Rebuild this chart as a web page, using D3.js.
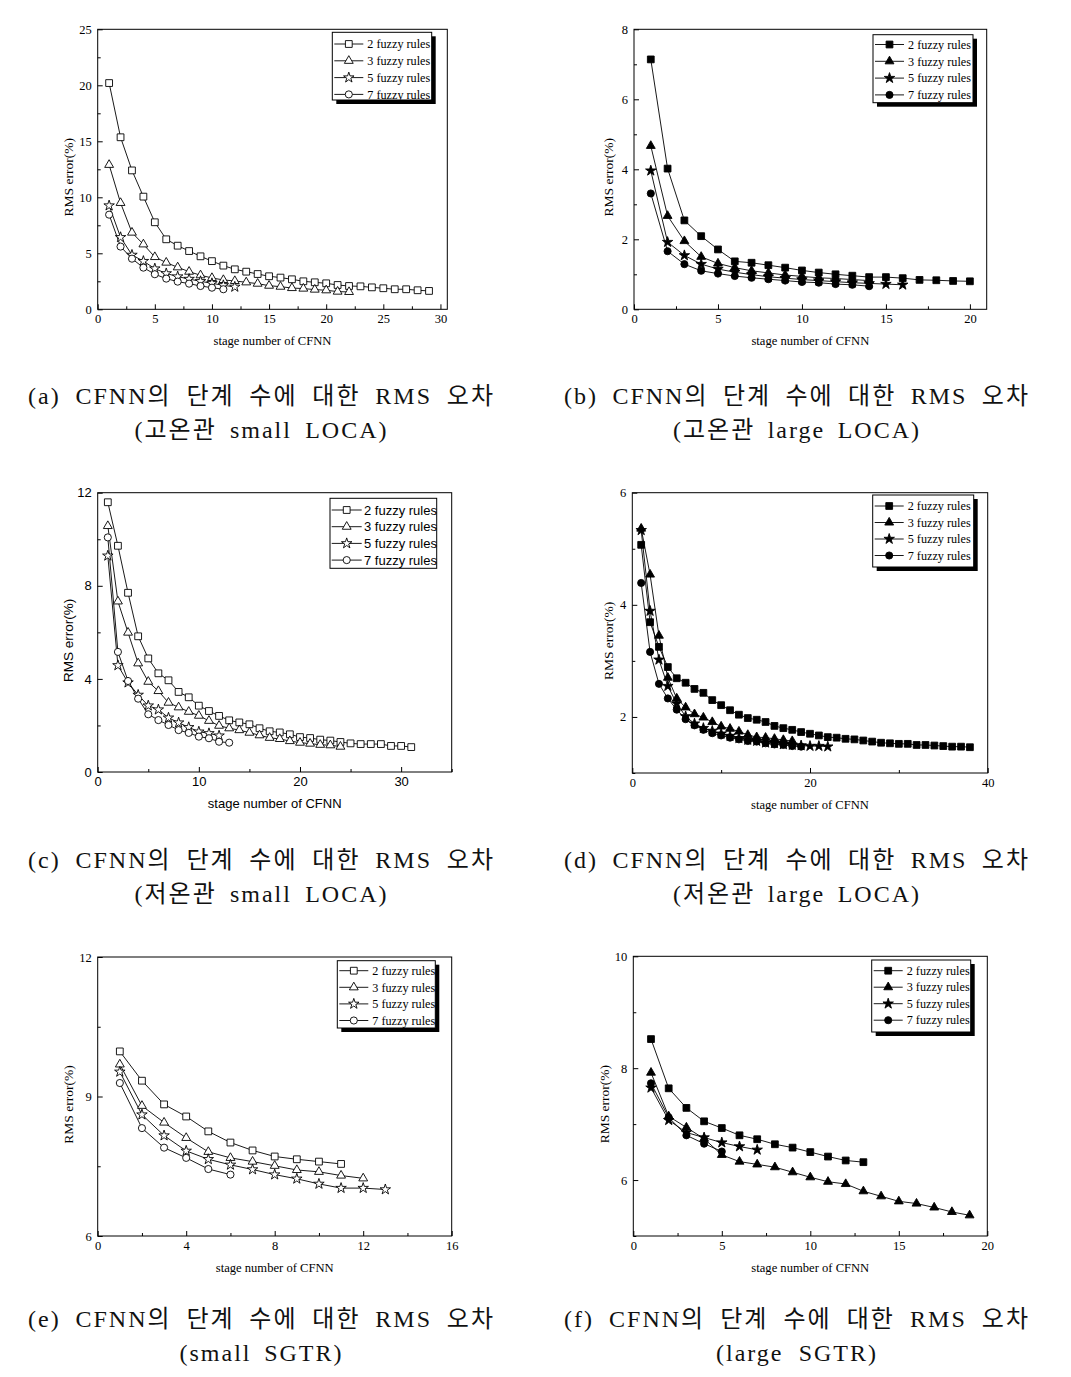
<!DOCTYPE html>
<html><head><meta charset="utf-8">
<script src="https://cdn.jsdelivr.net/npm/d3@7"></script>
<style>body{margin:0;background:#fff}</style>
</head><body>
<svg id="chart" width="1071" height="1377" xmlns="http://www.w3.org/2000/svg"></svg>
<script>
// ---------------- DATA ----------------
const seriesLabels = ["2 fuzzy rules", "3 fuzzy rules", "5 fuzzy rules", "7 fuzzy rules"];
const xAxisTitle = "stage number of CFNN";
const yAxisTitle = "RMS error(%)";

// (a) hot-leg small LOCA  (x = stage 1..n)
const a_rule2 = [20.2,15.36,12.4,10.06,7.77,6.25,5.68,5.2,4.73,4.3,3.9,3.57,3.36,3.15,2.95,2.83,2.68,2.5,2.41,2.32,2.17,2.08,2.05,1.96,1.88,1.79,1.79,1.7,1.64];
const a_rule3 = [12.9,9.5,6.85,5.8,4.67,4.17,3.75,3.36,3.04,2.8,2.62,2.53,2.41,2.29,2.11,2.02,1.9,1.85,1.76,1.7,1.58,1.55];
const a_rule5 = [9.26,6.43,4.85,4.3,3.63,3.2,2.92,2.7,2.5,2.32,2.14,2.0];
const a_rule7 = [8.45,5.6,4.52,3.72,3.13,2.74,2.47,2.29,2.08,1.93,1.79];
const a_xTicks = [0,5,10,15,20,25,30];
const a_yTicks = [0,5,10,15,20,25];

// (b) hot-leg large LOCA
const b_rule2 = [7.14,4.02,2.54,2.09,1.71,1.37,1.33,1.26,1.19,1.11,1.05,1.0,0.96,0.92,0.92,0.89,0.84,0.83,0.81,0.8];
const b_rule3 = [4.67,2.67,1.95,1.5,1.31,1.19,1.1,1.04,0.98,0.94,0.9,0.88,0.85,0.82];
const b_rule5 = [3.96,1.92,1.54,1.29,1.15,1.06,0.99,0.93,0.89,0.85,0.82,0.79,0.76,0.74,0.72,0.7];
const b_rule7 = [3.31,1.66,1.29,1.1,1.02,0.95,0.9,0.86,0.82,0.78,0.76,0.72,0.7,0.66];
const b_xTicks = [0,5,10,15,20];
const b_yTicks = [0,2,4,6,8];

// (c) cold-leg small LOCA
const c_rule2 = [11.59,9.72,7.7,5.83,4.88,4.24,3.94,3.44,3.21,2.85,2.62,2.41,2.22,2.13,2.05,1.88,1.75,1.7,1.62,1.5,1.46,1.39,1.35,1.29,1.23,1.2,1.2,1.2,1.12,1.12,1.07];
const c_rule3 = [10.57,7.33,5.99,4.67,3.88,3.48,2.98,2.78,2.59,2.42,2.2,1.99,1.88,1.8,1.69,1.58,1.47,1.42,1.33,1.26,1.22,1.17,1.15,1.09];
const c_rule5 = [9.29,4.58,3.84,3.31,2.85,2.68,2.33,2.12,1.92,1.73,1.66,1.56];
const c_rule7 = [10.08,5.16,3.91,3.15,2.48,2.23,2.02,1.8,1.68,1.52,1.45,1.3,1.26];
const c_xTicks = [0,10,20,30];
const c_yTicks = [0,4,8,12];

// (d) cold-leg large LOCA
const d_rule2 = [5.07,3.69,3.25,2.89,2.69,2.61,2.5,2.43,2.3,2.21,2.12,2.04,1.98,1.95,1.91,1.84,1.8,1.77,1.73,1.7,1.67,1.64,1.63,1.61,1.6,1.58,1.56,1.54,1.53,1.52,1.52,1.5,1.5,1.49,1.48,1.47,1.47,1.46];
const d_rule3 = [5.36,4.54,3.45,2.7,2.33,2.17,2.05,1.99,1.91,1.83,1.79,1.74,1.68,1.64,1.63,1.61,1.59,1.57];
const d_rule5 = [5.33,3.89,3.02,2.55,2.24,2.01,1.88,1.8,1.75,1.7,1.66,1.62,1.59,1.57,1.54,1.53,1.51,1.5,1.49,1.48,1.48,1.47];
const d_rule7 = [4.39,3.16,2.59,2.33,2.13,1.96,1.85,1.77,1.71,1.67,1.63,1.6,1.57,1.56,1.53,1.51,1.5,1.48,1.47];
const d_xTicks = [0,20,40];
const d_yTicks = [2,4,6];

// (e) small SGTR
const e_rule2 = [9.97,9.34,8.83,8.57,8.25,8.01,7.84,7.71,7.65,7.6,7.55];
const e_rule3 = [9.69,8.8,8.44,8.11,7.81,7.68,7.6,7.51,7.42,7.38,7.3,7.24];
const e_rule5 = [9.53,8.61,8.16,7.83,7.65,7.53,7.43,7.32,7.23,7.12,7.03,7.03,7.0];
const e_rule7 = [9.29,8.32,7.9,7.68,7.44,7.32];
const e_xTicks = [0,4,8,12,16];
const e_yTicks = [6,9,12];

// (f) large SGTR
const f_rule2 = [8.52,7.64,7.29,7.05,6.93,6.8,6.73,6.64,6.58,6.5,6.42,6.35,6.32];
const f_rule3 = [7.92,7.14,6.94,6.74,6.45,6.33,6.28,6.23,6.14,6.05,5.97,5.93,5.8,5.71,5.62,5.58,5.51,5.43,5.37];
const f_rule5 = [7.65,7.07,6.85,6.76,6.67,6.6,6.54];
const f_rule7 = [7.73,7.12,6.8,6.65,6.51];
const f_xTicks = [0,5,10,15,20];
const f_yTicks = [6,8,10];

const captionLine1 = [
  "(a) CFNN의 단계 수에 대한 RMS 오차",
  "(b) CFNN의 단계 수에 대한 RMS 오차",
  "(c) CFNN의 단계 수에 대한 RMS 오차",
  "(d) CFNN의 단계 수에 대한 RMS 오차",
  "(e) CFNN의 단계 수에 대한 RMS 오차",
  "(f) CFNN의 단계 수에 대한 RMS 오차"
];
const captionLine2 = [
  "(고온관 small LOCA)",
  "(고온관 large LOCA)",
  "(저온관 small LOCA)",
  "(저온관 large LOCA)",
  "(small SGTR)",
  "(large SGTR)"
];

// ---------------- LAYOUT ----------------
const SERIF = "'Liberation Serif','Times New Roman',serif";
const SANS = "'Liberation Sans',Arial,sans-serif";
const symbolTypes = [d3.symbolSquare, d3.symbolTriangle, d3.symbolStar, d3.symbolCircle];
const symbolSizes = [46, 34, 34, 40];

const panels = [
  {series:[a_rule2,a_rule3,a_rule5,a_rule7], xTicks:a_xTicks, yTicks:a_yTicks, xDomain:[0,30.6], yDomain:[0,25],
   xMinorStep:2.5, yMinorStep:2.5, left:97.7, right:447.3, top:29.3, bottom:309.3, filled:false, sans:false,
   ylabX:72.5, legend:{x:332.3,y:32.3,w:99.4,h:67.7,row0:11.7,step:16.8,lx0:2,lx1:31,tx:35,shadow:true}},
  {series:[b_rule2,b_rule3,b_rule5,b_rule7], xTicks:b_xTicks, yTicks:b_yTicks, xDomain:[0,21], yDomain:[0,8],
   xMinorStep:2.5, yMinorStep:1, left:634, right:986.7, top:29.3, bottom:309.3, filled:true, sans:false,
   ylabX:613, legend:{x:873,y:34.7,w:100,h:68,row0:9.8,step:16.8,lx0:2,lx1:31,tx:35,shadow:true}},
  {series:[c_rule2,c_rule3,c_rule5,c_rule7], xTicks:c_xTicks, yTicks:c_yTicks, xDomain:[0,35], yDomain:[0,12],
   xMinorStep:5, yMinorStep:2, left:97.7, right:451.7, top:492.7, bottom:772, filled:false, sans:true,
   ylabX:73, legend:{x:330,y:498.3,w:106.7,h:70,row0:11.7,step:16.7,lx0:1.7,lx1:31.7,tx:34,shadow:false}},
  {series:[d_rule2,d_rule3,d_rule5,d_rule7], xTicks:d_xTicks, yTicks:d_yTicks, xDomain:[0,40], yDomain:[1,6],
   xMinorStep:10, yMinorStep:1, left:632.3, right:987.7, top:492.7, bottom:773, filled:true, sans:false,
   ylabX:613, legend:{x:872.7,y:495,w:101,h:72,row0:11,step:16.5,lx0:2,lx1:31,tx:35,shadow:true}},
  {series:[e_rule2,e_rule3,e_rule5,e_rule7], xTicks:e_xTicks, yTicks:e_yTicks, xDomain:[0,16], yDomain:[6,12],
   xMinorStep:2, yMinorStep:1.5, left:97.7, right:451.7, top:957, bottom:1236, filled:false, sans:false,
   ylabX:72.5, legend:{x:337.3,y:960.7,w:98,h:67.3,row0:10,step:16.6,lx0:2,lx1:31,tx:35,shadow:true}},
  {series:[f_rule2,f_rule3,f_rule5,f_rule7], xTicks:f_xTicks, yTicks:f_yTicks, xDomain:[0,20], yDomain:[5,10],
   xMinorStep:2.5, yMinorStep:1, left:633.3, right:987.3, top:956.3, bottom:1236, filled:true, sans:false,
   ylabX:608.5, legend:{x:871.7,y:960,w:99,h:72,row0:10.7,step:16.5,lx0:2,lx1:31,tx:35,shadow:true}}
];

const svg = d3.select("#chart");

function drawPanel(p) {
  const g = svg.append("g");
  const font = p.sans ? SANS : SERIF;
  const fs = p.sans ? 13 : 12.5;
  const x = d3.scaleLinear().domain(p.xDomain).range([p.left, p.right]);
  const y = d3.scaleLinear().domain(p.yDomain).range([p.bottom, p.top]);

  const xMinor = d3.range(p.xDomain[0], p.xDomain[1] + 1e-9, p.xMinorStep).filter(v => !p.xTicks.includes(+v.toFixed(6)));
  const yMinor = d3.range(p.yDomain[0], p.yDomain[1] + 1e-9, p.yMinorStep).filter(v => !p.yTicks.includes(+v.toFixed(6)));

  const xAxis = g.append("g").attr("transform", `translate(0,${p.bottom})`)
    .call(d3.axisBottom(x).tickValues(p.xTicks).tickSizeInner(-5).tickSizeOuter(0).tickPadding(5).tickFormat(d3.format("d")));
  const xAxisMinor = g.append("g").attr("transform", `translate(0,${p.bottom})`)
    .call(d3.axisBottom(x).tickValues(xMinor).tickSizeInner(-3).tickSizeOuter(0).tickFormat(""));
  const yAxis = g.append("g").attr("transform", `translate(${p.left},0)`)
    .call(d3.axisLeft(y).tickValues(p.yTicks).tickSizeInner(-5).tickSizeOuter(0).tickPadding(6).tickFormat(d3.format("d")));
  const yAxisMinor = g.append("g").attr("transform", `translate(${p.left},0)`)
    .call(d3.axisLeft(y).tickValues(yMinor).tickSizeInner(-3).tickSizeOuter(0).tickFormat(""));

  [xAxis, xAxisMinor, yAxis, yAxisMinor].forEach(a => {
    a.select(".domain").remove();
    a.selectAll("line").attr("stroke", "#000").attr("stroke-width", 1);
    a.selectAll("text").attr("font-family", font).attr("font-size", fs).attr("fill", "#000");
  });

  g.append("rect").attr("x", p.left).attr("y", p.top)
    .attr("width", p.right - p.left).attr("height", p.bottom - p.top)
    .attr("fill", "none").attr("stroke", "#000").attr("stroke-width", 1);

  g.append("text").attr("x", (p.left + p.right) / 2).attr("y", p.bottom + 36)
    .attr("text-anchor", "middle").attr("font-family", font).attr("font-size", p.sans ? 13 : 12.6)
    .attr("fill", "#000").text(xAxisTitle);
  const ym = (p.top + p.bottom) / 2 + 8;
  g.append("text").attr("transform", `translate(${p.ylabX},${ym}) rotate(-90)`)
    .attr("text-anchor", "middle").attr("font-family", font).attr("font-size", 13.5)
    .attr("fill", "#000").text(yAxisTitle);

  const line = d3.line().x((d, i) => x(i + 1)).y(d => y(d));
  p.series.forEach((s) => {
    g.append("path").datum(s).attr("d", line).attr("fill", "none")
      .attr("stroke", "#000").attr("stroke-width", 0.9);
  });
  p.series.forEach((s, k) => {
    g.selectAll(null).data(s).enter().append("path")
      .attr("transform", (d, i) => `translate(${x(i + 1)},${y(d)})`)
      .attr("d", d3.symbol().type(symbolTypes[k]).size(symbolSizes[k]))
      .attr("fill", p.filled ? "#000" : "#fff")
      .attr("stroke", "#000").attr("stroke-width", 0.9);
  });

  const L = p.legend;
  if (L.shadow) {
    g.append("rect").attr("x", L.x + 4).attr("y", L.y + 4).attr("width", L.w).attr("height", L.h).attr("fill", "#000");
  }
  g.append("rect").attr("x", L.x).attr("y", L.y).attr("width", L.w).attr("height", L.h)
    .attr("fill", "#fff").attr("stroke", "#000").attr("stroke-width", 1);
  seriesLabels.forEach((lab, k) => {
    const ry = L.y + L.row0 + k * L.step;
    g.append("line").attr("x1", L.x + L.lx0).attr("x2", L.x + L.lx1).attr("y1", ry).attr("y2", ry)
      .attr("stroke", "#000").attr("stroke-width", 0.9);
    g.append("path").attr("transform", `translate(${L.x + (L.lx0 + L.lx1) / 2},${ry})`)
      .attr("d", d3.symbol().type(symbolTypes[k]).size(symbolSizes[k]))
      .attr("fill", p.filled ? "#000" : "#fff").attr("stroke", "#000").attr("stroke-width", 0.9);
    g.append("text").attr("x", L.x + L.tx).attr("y", ry).attr("dy", "0.35em")
      .attr("font-family", font).attr("font-size", p.sans ? 13 : 12.2).attr("fill", "#000").text(lab);
  });
}

panels.forEach(drawPanel);

// captions
const capCols = [[28, 493], [564, 1028]];
const capBase1 = [404, 867.5, 1327];
const LS = 2;
function caption(text, cx0, cx1, yb, targetW) {
  const t = svg.append("text").attr("x", (cx0 + cx1) / 2 + LS / 2).attr("y", yb).attr("text-anchor", "middle")
    .attr("font-family", "'Liberation Serif','Noto Sans CJK KR',serif").attr("font-size", 24)
    .attr("letter-spacing", LS)
    .attr("fill", "#111").attr("xml:space", "preserve").text(text);
  const nat = t.node().getComputedTextLength();
  const spaces = (text.match(/ /g) || []).length;
  if (spaces > 0) t.attr("word-spacing", Math.max(0, (targetW + LS - nat) / spaces));
}
const line2Widths = [252, 246, 252, 246, 162, 160];
captionLine1.forEach((c, i) => {
  const col = capCols[i % 2];
  const row = Math.floor(i / 2);
  caption(c, col[0], col[1], capBase1[row], col[1] - col[0]);
  caption(captionLine2[i], col[0], col[1], capBase1[row] + 34, line2Widths[i]);
});
</script>
</body></html>
